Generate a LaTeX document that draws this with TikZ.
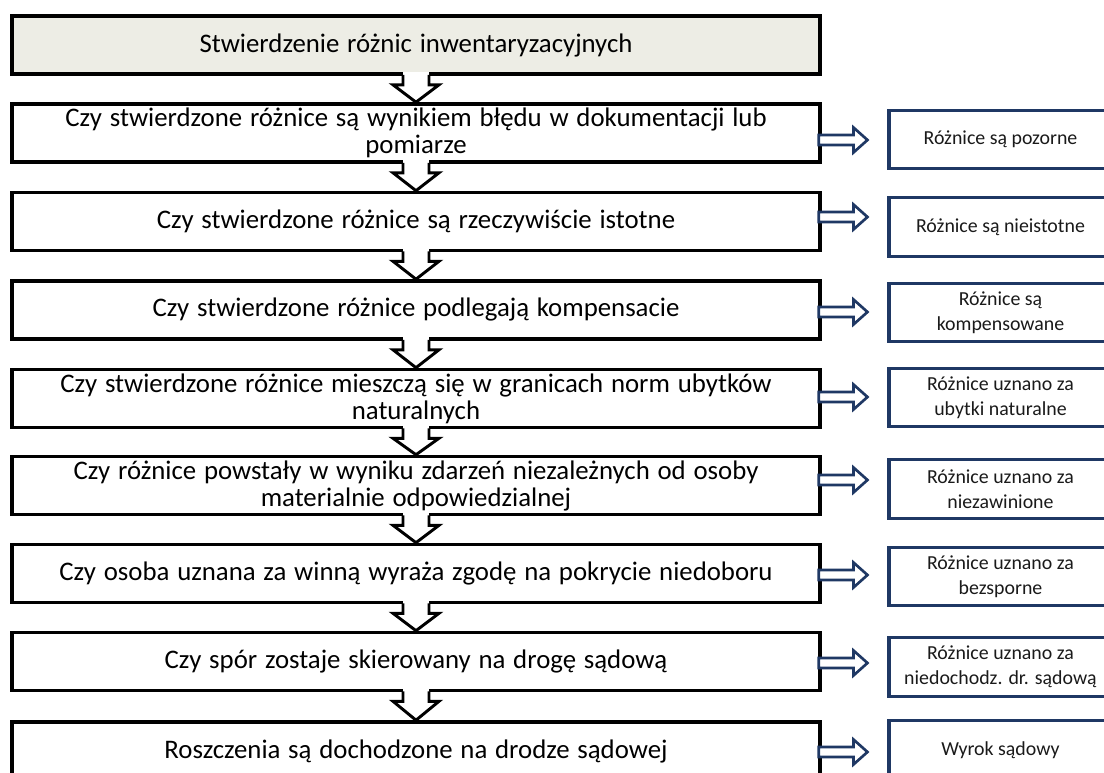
\documentclass[tikz,border=0pt]{standalone}
\usepackage{fontspec}
\setmainfont{Carlito}
\usetikzlibrary{calc}
\definecolor{navy}{HTML}{1F3864}
\definecolor{beige}{HTML}{EDEDE5}
\definecolor{txtgray}{HTML}{1A1A1A}
\newcommand\mainboxfont{\fontsize{20.1}{20.25}\selectfont\spaceskip 0.29em plus 0.1em\relax}
\newcommand\hollowdown[2]{%
  \fill[white] ($(#1.south)+(-13,-4)$) rectangle ($(#1.south)+(13,9)$);
  \draw[downarr] ($(#1.south)+(-13,-1)$) -- ++(0,10) -- ++(-10,0) -- (#2.north)
    -- ($(#1.south)+(23,9)$) -- ++(-10,0) -- ++(0,-10);
}
\newcommand\sidearrow[3]{%
  \draw[sidearr] ($(#1.east)+(-3,#3-5)$)
    -- ($(#2.west |- #1.east)+(-34,#3-5)$)
    -- ($(#2.west |- #1.east)+(-34,#3-12.5)$)
    -- ($(#2.west |- #1.east)+(-20,#3)$)
    -- ($(#2.west |- #1.east)+(-34,#3+12.5)$)
    -- ($(#2.west |- #1.east)+(-34,#3+5)$)
    -- ($(#1.east)+(-3,#3+5)$) -- cycle;
}
\begin{document}
\begin{tikzpicture}[x=0.75pt,y=-0.75pt,
  mainbox/.style={draw=black, line width=2.7pt, fill=white, minimum width=606pt,
    minimum height=43.5pt, inner sep=0pt, align=center,
    font=\mainboxfont, text=black},
  sidebox/.style={draw=navy, line width=2.3pt, fill=white, minimum width=167.25pt,
    minimum height=44pt, inner sep=0pt, align=center,
    font=\fontsize{14.9}{18.75}\selectfont, text=txtgray},
  downarr/.style={draw=black, line width=2.2pt, fill=white, line join=miter},
  sidearr/.style={draw=navy, line width=2pt, fill=white, line join=miter}]
\useasboundingbox (0,0) rectangle (1104,773);
\clip (0,0) rectangle (1104,773);
\fill[white] (0,0) rectangle (1104,773);

% main column
\node[mainbox, fill=beige] (m1) at (416,45) {Stwierdzenie różnic inwentaryzacyjnych};
\node[mainbox] (m2) at (416,133) {Czy stwierdzone różnice są wynikiem błędu w dokumentacji lub\\pomiarze};
\node[mainbox] (m3) at (416,221.5) {Czy stwierdzone różnice są rzeczywiście istotne};
\node[mainbox] (m4) at (416,310) {Czy stwierdzone różnice podlegają kompensacie};
\node[mainbox] (m5) at (416,398.5) {Czy stwierdzone różnice mieszczą się w granicach norm ubytków\\naturalnych};
\node[mainbox] (m6) at (416,485.5) {Czy różnice powstały w wyniku zdarzeń niezależnych od osoby\\materialnie odpowiedzialnej};
\node[mainbox] (m7) at (416,573.5) {Czy osoba uznana za winną wyraża zgodę na pokrycie niedoboru};
\node[mainbox] (m8) at (416,661.5) {Czy spór zostaje skierowany na drogę sądową};
\node[mainbox] (m9) at (416,751) {Roszczenia są dochodzone na drodze sądowej};

% side column
\node[sidebox] (r1) at (1000.5,139.5) {Różnice są pozorne};
\node[sidebox] (r2) at (1000.5,227) {Różnice są nieistotne};
\node[sidebox] (r3) at (1000.5,312.5) {Różnice są\\kompensowane};
\node[sidebox] (r4) at (1000.5,397.5) {Różnice uznano za\\ubytki naturalne};
\node[sidebox] (r5) at (1000.5,489) {Różnice uznano za\\niezawinione};
\node[sidebox] (r6) at (1000.5,576.5) {Różnice uznano za\\bezsporne};
\node[sidebox] (r7) at (1000.5,667) {Różnice uznano za\\niedochodz. dr. sądową};
\node[sidebox] (r8) at (1000.5,750) {Wyrok sądowy};

% down arrows
\hollowdown{m1}{m2}
\hollowdown{m2}{m3}
\hollowdown{m3}{m4}
\hollowdown{m4}{m5}
\hollowdown{m5}{m6}
\hollowdown{m6}{m7}
\hollowdown{m7}{m8}
\hollowdown{m8}{m9}

% side arrows
\sidearrow{m2}{r1}{7}
\sidearrow{m3}{r2}{-4.5}
\sidearrow{m4}{r3}{2}
\sidearrow{m5}{r4}{-1.5}
\sidearrow{m6}{r5}{-5.5}
\sidearrow{m7}{r6}{1.5}
\sidearrow{m8}{r7}{1.5}
\sidearrow{m9}{r8}{1}
\end{tikzpicture}
\end{document}
